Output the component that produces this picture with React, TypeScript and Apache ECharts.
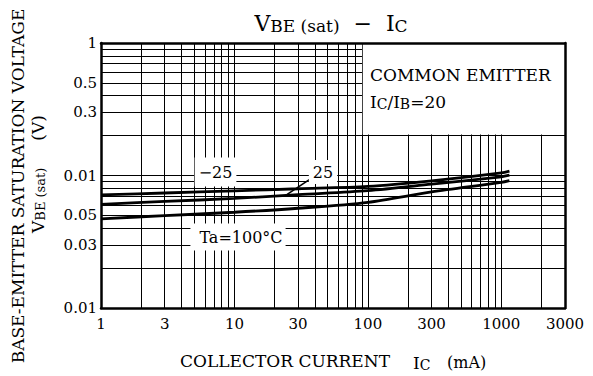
import React, { useEffect, useRef } from "react";
import * as echarts from "echarts";

const FONT = '"DejaVu Serif", "Liberation Serif", serif';

// Axis ticks (labels, including its "0.01" at the 0.1 line)
const xTickValues = [1, 3, 10, 30, 100, 300, 1000, 3000];
const xTickLabels = ["1", "3", "10", "30", "100", "300", "1000", "3000"];
const yTickValues = [1, 0.5, 0.3, 0.1, 0.05, 0.03, 0.01];
const yTickLabels = ["1", "0.5", "0.3", "0.01", "0.05", "0.03", "0.01"];

// Log-paper grid lines
const xGridLines = [2, 3, 4, 5, 6, 7, 8, 9, 10, 20, 30, 40, 50, 60, 70, 80, 90, 100, 200, 300, 400, 500, 600, 700, 800, 900, 1000, 2000];
const yGridLines = [0.02, 0.03, 0.04, 0.05, 0.06, 0.07, 0.08, 0.09, 0.1, 0.2, 0.3, 0.4, 0.5, 0.6, 0.7, 0.8, 0.9];

// Curves: collector current (mA) vs VBE(sat)
const currents = [1, 3, 10, 30, 100, 300, 1000, 1150];
const vbeMinus25 = [0.0715, 0.0738, 0.0766, 0.0794, 0.0828, 0.0912, 0.1048, 0.108];
const vbe25 = [0.0606, 0.0637, 0.0671, 0.0718, 0.0769, 0.0861, 0.0978, 0.1005];
const vbe100 = [0.0471, 0.0498, 0.0528, 0.0566, 0.0628, 0.0753, 0.0888, 0.0915];

const labelFor = (vals: number[], labels: string[]) => (v: number) => {
  let best = -1;
  let bd = Infinity;
  vals.forEach((t, i) => {
    const d = Math.abs(Math.log10(v) - Math.log10(t));
    if (d < bd) {
      bd = d;
      best = i;
    }
  });
  return bd < 1e-3 ? labels[best] : "";
};

const pairs = (ys: number[]) => currents.map((c, i) => [c, ys[i]]);

export default function App() {
  const ref = useRef<HTMLDivElement>(null);

  useEffect(() => {
    if (!ref.current) return;
    const chart = echarts.init(ref.current, undefined, { renderer: "svg" });
    const axisLineStyle = { color: "#000", width: 2.5 };
    const hiddenAxisParts = {
      axisTick: { show: false },
      splitLine: { show: false },
      minorTick: { show: false },
      minorSplitLine: { show: false },
    };
    const curve = (name: string, ys: number[], extra: any = {}) => ({
      type: "line",
      name,
      data: pairs(ys),
      smooth: 0.3,
      showSymbol: false,
      silent: true,
      z: 3,
      lineStyle: { color: "#000", width: 2.8 },
      ...extra,
    });

    const txt = (x: number, y: number, text: string, size: number, extra: any = {}, elExtra: any = {}) => ({
      type: "text",
      x,
      y,
      z: 100,
      silent: true,
      ...elExtra,
      style: {
        text,
        fontFamily: FONT,
        fontSize: size,
        fill: "#000",
        align: "left",
        verticalAlign: "middle",
        ...extra,
      },
    });

    const rich = (big: number, small: number) => ({
      a: { fontFamily: FONT, fontSize: big, lineHeight: big + 4, fill: "#000", verticalAlign: "bottom" },
      b: { fontFamily: FONT, fontSize: small, lineHeight: small + 4, fill: "#000", verticalAlign: "bottom" },
      c: { fontFamily: FONT, fontSize: small, lineHeight: small - 2, fill: "#000", verticalAlign: "bottom" },
    });

    chart.setOption({
      animation: false,
      backgroundColor: "#fff",
      grid: { left: 101, top: 43, width: 464, height: 265 },
      xAxis: [
        {
          type: "log",
          logBase: 10,
          min: 1,
          max: 3000,
          position: "bottom",
          z: 10,
          axisLine: { show: true, onZero: false, lineStyle: axisLineStyle },
          ...hiddenAxisParts,
          axisLabel: {
            customValues: xTickValues,
            formatter: labelFor(xTickValues, xTickLabels),
            color: "#000",
            fontFamily: FONT,
            fontSize: 15,
            margin: 8,
          },
        },
        {
          type: "log",
          logBase: 10,
          min: 1,
          max: 3000,
          position: "top",
          z: 10,
          axisLine: { show: true, onZero: false, lineStyle: axisLineStyle },
          ...hiddenAxisParts,
          axisLabel: { show: false },
        },
      ],
      yAxis: [
        {
          type: "log",
          logBase: 10,
          min: 0.01,
          max: 1,
          position: "left",
          z: 10,
          axisLine: { show: true, onZero: false, lineStyle: axisLineStyle },
          ...hiddenAxisParts,
          axisLabel: {
            customValues: yTickValues,
            formatter: labelFor(yTickValues, yTickLabels),
            color: "#000",
            fontFamily: FONT,
            fontSize: 15,
            margin: 4,
          },
        },
        {
          type: "log",
          logBase: 10,
          min: 0.01,
          max: 1,
          position: "right",
          z: 10,
          axisLine: { show: true, onZero: false, lineStyle: axisLineStyle },
          ...hiddenAxisParts,
          axisLabel: { show: false },
        },
      ],
      series: [
        {
          type: "line",
          name: "grid",
          data: [[1, 0.01]],
          showSymbol: false,
          silent: true,
          z: 1,
          lineStyle: { width: 0 },
          markLine: {
            silent: true,
            z: 1,
            symbol: "none",
            label: { show: false },
            emphasis: { disabled: true },
            lineStyle: { color: "#000", width: 1, type: "solid", opacity: 1 },
            data: [
              ...xGridLines.map((v) => ({ xAxis: v })),
              ...yGridLines.map((v) => ({ yAxis: v })),
            ],
          },
          markArea: {
            silent: true,
            z: 2,
            itemStyle: { color: "#fff", opacity: 1 },
            label: { show: false },
            emphasis: { disabled: true },
            data: [[{ xAxis: 91.5, yAxis: 0.2035 }, { xAxis: 3000, yAxis: 1 }]],
          },
        },
        curve("-25", vbeMinus25),
        curve("25", vbe25, {
          markLine: {
            silent: true,
            z: 4,
            symbol: ["none", "arrow"],
            symbolSize: [0, 9],
            label: { show: false },
            emphasis: { disabled: true },
            lineStyle: { color: "#000", width: 1.5, type: "solid" },
            data: [[{ coord: [37.6, 0.0953] }, { coord: [23.6, 0.0695] }]],
          },
        }),
        curve("100", vbe100),
      ],
      graphic: [
        // title
        txt(331, 21, "{a|V}{b|BE (sat)}{a|  −  I}{c|C}", 22, {
          align: "center",
          rich: rich(22, 17),
        }),
        // y axis name
        txt(18, 186, "BASE-EMITTER SATURATION VOLTAGE", 17, { align: "center" }, { rotation: Math.PI / 2 }),
        txt(36, 174, "{a|V}{b|BE (sat)}{a|     (V)}", 17, { align: "center", rich: rich(17, 13) }, { rotation: Math.PI / 2 }),
        // x axis name
        txt(180, 361, "COLLECTOR CURRENT", 17),
        txt(413, 361, "{a|I}{c|C}", 17, { rich: rich(17, 14) }),
        txt(447, 362, "(mA)", 16),
        // legend box text
        txt(370, 75, "COMMON EMITTER", 17),
        txt(370, 100, "{a|I}{c|C}{a|/I}{c|B}{a|=20}", 17, { rich: rich(17, 14) }),
        // curve labels
        txt(215.5, 172, "−25", 16, { align: "center", backgroundColor: "#fff", padding: [8, 4, 5, 4] }),
        txt(323, 172, "25", 16, { align: "center", backgroundColor: "#fff", padding: [6, 4, 2, 4] }),
        txt(238, 237, "Ta=100°C", 16, { align: "center", backgroundColor: "#fff", padding: [6, 3, 5, 9] }),
      ],
    });
    return () => chart.dispose();
  }, []);

  return (
    <div
      ref={ref}
      style={{ position: "absolute", left: 0, top: 0, width: 593, height: 376 }}
    />
  );
}
